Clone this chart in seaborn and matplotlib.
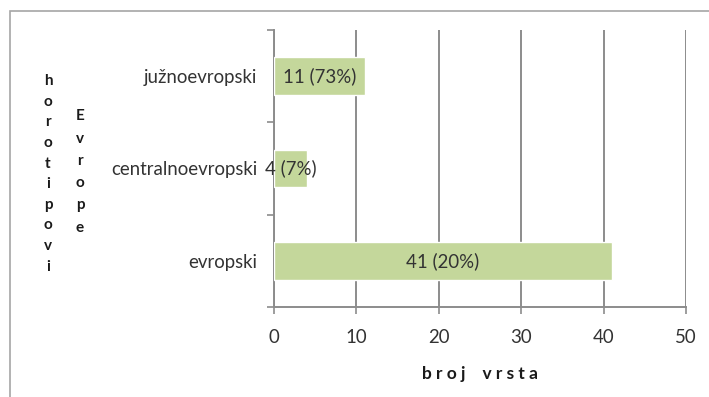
import matplotlib
matplotlib.use("Agg")
import matplotlib.pyplot as plt
import seaborn as sns
import pandas as pd
from matplotlib.patches import Rectangle

# Chorotype categories and species counts
categories = ["južnoevropski", "centralnoevropski", "evropski"]
counts = [11, 4, 41]
percent_labels = ["11 (73%)", "4 (7%)", "41 (20%)"]
x_ticks = [0, 10, 20, 30, 40, 50]

df = pd.DataFrame({"horotip": categories, "broj": counts})

sns.set_theme(style="white")
plt.rcParams["font.family"] = ["Lato", "DejaVu Sans"]

fig = plt.figure(figsize=(7.09, 3.97), dpi=100)
ax = fig.add_axes([274 / 709, 1 - 307 / 397, (686 - 274) / 709, (307 - 30) / 397])

bar_color = "#c4d79b"
grid_color = "#8c8c8c"
text_color = "#333333"
fs = 13.4

sns.barplot(data=df, x="broj", y="horotip", order=categories, color=bar_color,
            saturation=1, width=0.41, ax=ax, zorder=3)

ax.set_xlim(0, 50)
ax.set_ylim(2.5, -0.5)
ax.set_xticks(x_ticks)
ax.set_xticklabels([str(t) for t in x_ticks], fontsize=fs, color=text_color)
ax.xaxis.grid(True, color=grid_color, linewidth=1.4, zorder=0)
ax.yaxis.grid(False)
ax.set_axisbelow(True)

# Category labels centred on bars; tick marks at category boundaries
ax.set_yticks(range(len(categories)))
ax.set_yticklabels(categories, fontsize=fs, color=text_color)
ax.tick_params(axis="y", which="major", length=0, pad=12)
ax.set_yticks([-0.5, 0.5, 1.5, 2.5], minor=True)
ax.tick_params(axis="y", which="minor", length=5, width=1.2, color=grid_color, left=True)
ax.tick_params(axis="x", which="major", length=5, width=1.2, color=grid_color,
               bottom=True, pad=10.5)

for side in ["top", "right"]:
    ax.spines[side].set_visible(False)
for side in ["left", "bottom"]:
    ax.spines[side].set_color(grid_color)
    ax.spines[side].set_linewidth(1.4)

# Value labels in the middle of each bar
for i, (v, lab) in enumerate(zip(counts, percent_labels)):
    ax.text(v / 2, i, lab, ha="center", va="center", fontsize=fs,
            color=text_color, zorder=4)

ax.set_xlabel("b r o j    v r s t a", fontsize=12.5, fontweight="bold",
              color="#1a1a1a", labelpad=15)
ax.set_ylabel("")

# Vertical stacked-letter axis title
fig.text(48 / 709, 1 - 174 / 397, "\n".join("horotipovi"), ha="center", va="center",
         fontsize=11, fontweight="bold", color="#1a1a1a", linespacing=1.6)
fig.text(80 / 709, 1 - 172 / 397, "\n".join("Evrope"), ha="center", va="center",
         fontsize=11, fontweight="bold", color="#1a1a1a", linespacing=1.75)

# Chart area border
fig.patches.append(Rectangle((10 / 709, -0.05), 1.0, 1 - 11 / 397 + 0.05,
                             transform=fig.transFigure, fill=False,
                             edgecolor="#a6a6a6", linewidth=1.2))

fig.savefig("out.png", dpi=100)
